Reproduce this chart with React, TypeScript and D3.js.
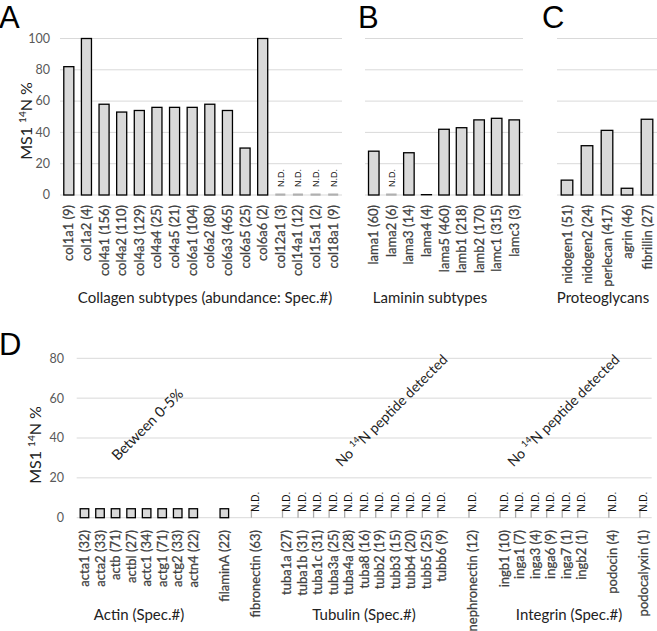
import React from "react";
import * as d3 from "d3";

const collagenLabels = ["col1a1 (9)", "col1a2 (4)", "col4a1 (156)", "col4a2 (110)", "col4a3 (129)", "col4a4 (25)", "col4a5 (21)", "col6a1 (104)", "col6a2 (80)", "col6a3 (465)", "col6a5 (25)", "col6a6 (2)", "col12a1 (3)", "col14a1 (12)", "col15a1 (2)", "col18a1 (9)"];
const collagenValues: (number | null)[] = [82, 100, 58, 53, 54, 56, 56, 56, 58, 54, 30, 100, null, null, null, null];

const lamininLabels = ["lama1 (60)", "lama2 (6)", "lama3 (14)", "lama4 (4)", "lama5 (460)", "lamb1 (218)", "lamb2 (170)", "lamc1 (315)", "lamc3 (3)"];
const lamininValues: (number | null)[] = [28, null, 27, 0.3, 42, 43, 48, 49, 48];

const proteoLabels = ["nidogen1 (51)", "nidogen2 (24)", "perlecan (417)", "agrin (46)", "fibrillin (27)"];
const proteoValues: (number | null)[] = [9.5, 31.5, 41.3, 4.3, 48.4];

// "" marks an empty slot between groups
const dLabels = ["acta1 (32)", "acta2 (33)", "actb (71)", "actbl (27)", "actc1 (34)", "actg1 (71)", "actg2 (33)", "actn4 (22)", "", "filaminA (22)", "", "fibronectin (63)", "", "tuba1a (27)", "tuba1b (31)", "tuba1c (31)", "tuba3a (25)", "tuba4a (28)", "tuba8 (16)", "tubb2 (19)", "tubb3 (15)", "tubb4 (20)", "tubb5 (25)", "tubb6 (9)", "", "nephronectin (12)", "", "ingb1 (10)", "inga1 (7)", "inga3 (4)", "inga6 (9)", "inga7 (1)", "ingb2 (1)", "", "podocin (4)", "", "podocalyxin (1)"];
const dValues: (number | null)[] = [4.5, 4.5, 4.5, 4.5, 4.5, 4.5, 4.5, 4.5, null, 4.5, null, null, null, null, null, null, null, null, null, null, null, null, null, null, null, null, null, null, null, null, null, null, null, null, null, null, null];

const abcTicks = [0, 20, 40, 60, 80, 100];
const dTicks = [0, 20, 40, 60, 80];

const FONT = "Lato, 'Open Sans', sans-serif";
const GRID = "#d9d9d9";
const BARFILL = "#d9d9d9";
const TICKCOL = "#595959";
const LABCOL = "#404040";

type PanelProps = {
  labels: string[];
  values: (number | null)[];
  x0: number;
  x1: number;
  y: d3.ScaleLinear<number, number>;
  ticks: number[];
  labelTop: number;
  barFrac: number;
  ndVertical?: boolean;
};

function Panel({ labels, values, x0, x1, y, ticks, labelTop, barFrac, ndVertical }: PanelProps) {
  const keys = labels.map((_, i) => String(i));
  const x = d3.scaleBand<string>().domain(keys).range([x0, x1]).paddingInner(0).paddingOuter(0);
  const bw = x.bandwidth() * barFrac;
  const base = y(0);
  return (
    <g>
      {ticks.map((t) => (
        <line key={"g" + t} x1={x0} x2={x1} y1={y(t)} y2={y(t)} stroke={GRID} strokeWidth={1} />
      ))}
      {labels.map((lab, i) => {
        if (lab === "") return null;
        const cx = (x(keys[i]) as number) + x.bandwidth() / 2;
        const v = values[i];
        return (
          <g key={i}>
            {v !== null ? (
              <rect x={cx - bw / 2} y={y(v)} width={bw} height={Math.max(base - y(v), 0.3)} fill={BARFILL} stroke="#000" strokeWidth={v < 1 ? 0.8 : 1.3} />
            ) : (
              <g>
                {ndVertical ? (
                  <line x1={cx - 4} x2={cx - 4} y1={base} y2={base - 8} stroke="#aaa" strokeWidth={1.3} />
                ) : (
                  <rect x={cx - bw / 2} y={base - 1.5} width={bw} height={2.2} fill="#b0b0b0" />
                )}
                <text transform={`translate(${cx + 3.5},${base - (ndVertical ? 6 : 8)}) rotate(-90)`} fontSize={ndVertical ? 10 : 9} fontFamily="'Liberation Sans', Arial, sans-serif" fill="#111">N.D.</text>
              </g>
            )}
            <text transform={`translate(${cx + 4.5},${labelTop}) rotate(-90)`} textAnchor="end" fontSize={13} fontFamily={FONT} fill={LABCOL} stroke={LABCOL} strokeWidth={0.25}>{lab}</text>
          </g>
        );
      })}
    </g>
  );
}

function YTicks({ y, ticks, xr }: { y: d3.ScaleLinear<number, number>; ticks: number[]; xr: number }) {
  return (
    <g>
      {ticks.map((t) => (
        <text key={t} x={xr} y={y(t)} dy="0.35em" textAnchor="end" fontSize={12.5} fontFamily={FONT} fill={TICKCOL}>{t}</text>
      ))}
    </g>
  );
}

function YTitle({ x, y }: { x: number; y: number }) {
  return (
    <text transform={`translate(${x},${y}) rotate(-90)`} textAnchor="middle" fontSize={16} fontFamily={FONT} fill="#222">
      MS1 <tspan fontSize={10} dy={-6}>14</tspan><tspan dy={6}>N %</tspan>
    </text>
  );
}

export default function App() {
  const yTop = d3.scaleLinear().domain([0, 100]).range([195, 38.5]);
  const yD = d3.scaleLinear().domain([0, 80]).range([517.7, 358.3]);
  const letter = { fontSize: 31, fontFamily: "'Liberation Sans', Arial, sans-serif", fill: "#000" };
  const title = { fontSize: 15, fontFamily: FONT, fill: "#222", textAnchor: "middle" as const };
  const ann = { fontSize: 14.5, fontFamily: FONT, fill: "#222", textAnchor: "middle" as const };
  return (
    <svg width={657} height={631} style={{ position: "absolute", left: 0, top: 0, background: "#fff" }}>
      <rect width={657} height={631} fill="#fff" />
      <text x={-1} y={28} {...letter}>A</text>
      <text x={358} y={28} {...letter}>B</text>
      <text x={542} y={28} {...letter}>C</text>
      <text x={-1} y={355} {...letter}>D</text>

      <YTicks y={yTop} ticks={abcTicks} xr={50} />
      <YTitle x={32} y={121} />
      <Panel labels={collagenLabels} values={collagenValues} x0={60} x1={342} y={yTop} ticks={abcTicks} labelTop={205} barFrac={0.57} />
      <Panel labels={lamininLabels} values={lamininValues} x0={365} x1={523} y={yTop} ticks={abcTicks} labelTop={205} barFrac={0.6} />
      <Panel labels={proteoLabels} values={proteoValues} x0={557} x1={657} y={yTop} ticks={abcTicks} labelTop={205} barFrac={0.58} />
      <text x={205} y={303} {...title}>Collagen subtypes (abundance: Spec.#)</text>
      <text x={430} y={303} {...title}>Laminin subtypes</text>
      <text x={603} y={303} {...title}>Proteoglycans</text>

      <YTicks y={yD} ticks={dTicks} xr={64} />
      <YTitle x={41} y={445} />
      <Panel labels={dLabels} values={dValues} x0={76.7} x1={651.7} y={yD} ticks={dTicks} labelTop={530} barFrac={0.55} ndVertical />
      <text x={139} y={620} {...title}>Actin (Spec.#)</text>
      <text x={364} y={620} {...title}>Tubulin (Spec.#)</text>
      <text x={569} y={620} {...title}>Integrin (Spec.#)</text>

      <text transform="translate(151,428) rotate(-45)" {...ann}>Between 0-5%</text>
      <text transform="translate(395,414) rotate(-45)" {...ann} fontSize={14}>
        No <tspan fontSize={9} dy={-6}>14</tspan><tspan dy={6}>N peptide detected</tspan>
      </text>
      <text transform="translate(567,414) rotate(-45)" {...ann} fontSize={14}>
        No <tspan fontSize={9} dy={-6}>14</tspan><tspan dy={6}>N peptide detected</tspan>
      </text>
    </svg>
  );
}
